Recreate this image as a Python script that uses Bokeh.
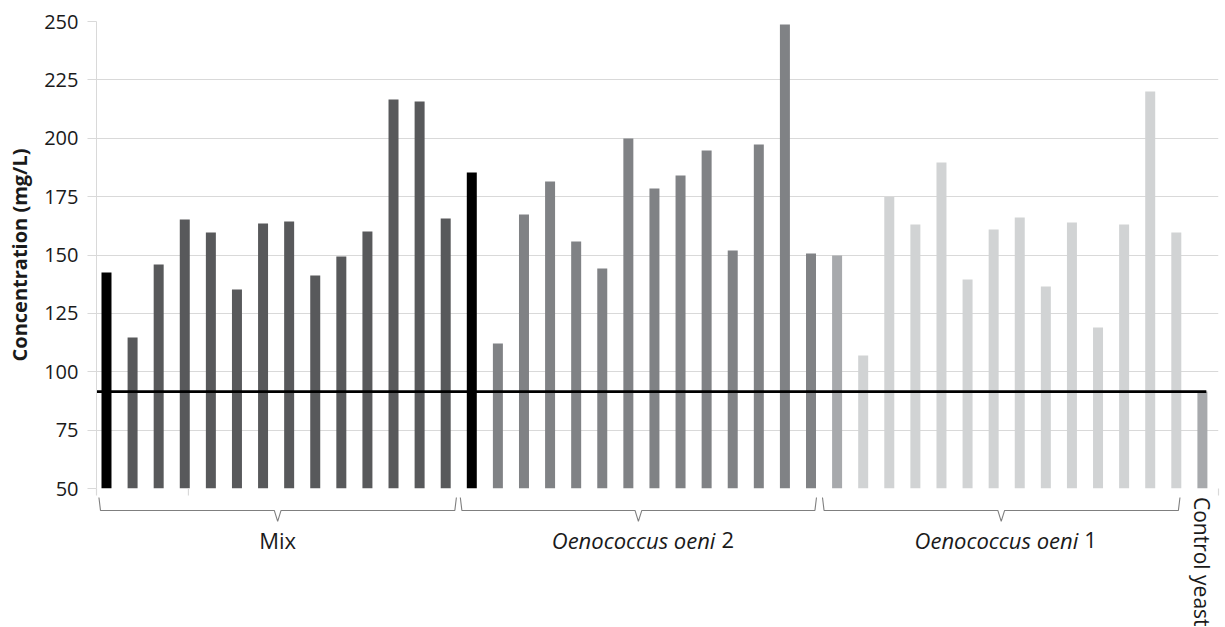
import math
from bokeh.plotting import figure
from bokeh.models import Range1d, FixedTicker, ColumnDataSource
from bokeh.core.properties import value
from bokeh.embed import file_html
from bokeh.resources import INLINE

# ---------------- data ----------------
group_names = ["Mix", "Oenococcus oeni", "Oenococcus oeni"]
group_suffix = ["", "2", "1"]
mix = [142.5, 114.7, 145.9, 165.2, 159.6, 135.2, 163.5, 164.3, 141.2, 149.4, 160.1, 216.6, 215.7, 165.6]
oeni2 = [185.3, 112.1, 167.3, 181.5, 155.8, 144.2, 199.9, 178.5, 184.0, 194.8, 151.9, 197.3, 248.7, 150.6]
oeni1 = [149.8, 107.0, 174.8, 163.1, 189.6, 139.5, 160.9, 166.1, 136.5, 163.9, 119.0, 163.1, 220.0, 159.6]
control_label = "Control yeast"
control = [91.5]
y_ticks = [50, 75, 100, 125, 150, 175, 200, 225, 250]

mix_colors = ["#000000"] + ["#58595b"] * 13
oeni2_colors = ["#000000"] + ["#808285"] * 13
oeni1_colors = ["#a7a9ac"] + ["#d1d3d4"] * 13
control_colors = ["#a7a9ac"]

FONT = "Open Sans"

values = mix + oeni2 + oeni1 + control
colors = mix_colors + oeni2_colors + oeni1_colors + control_colors
xs = list(range(len(values)))
src = ColumnDataSource(dict(x=xs, top=values, color=colors))
n = len(values)
x_lo, x_hi = -0.383, n - 0.383

p = figure(width=1225, height=627, output_backend="svg", toolbar_location=None,
           x_range=Range1d(x_lo, x_hi), y_range=Range1d(50, 250),
           min_border_left=96, min_border_right=7, min_border_top=21, min_border_bottom=139)
p.outline_line_color = None
p.background_fill_color = "white"
p.border_fill_color = "white"

# grid
p.xgrid.visible = False
p.ygrid.ticker = FixedTicker(ticks=y_ticks)
p.ygrid.grid_line_color = "#d9d9d9"
p.ygrid.grid_line_width = 1.2

# y axis
p.yaxis.ticker = FixedTicker(ticks=y_ticks)
p.yaxis.axis_line_color = "#d9d9d9"
p.yaxis.major_tick_line_color = "#d9d9d9"
p.yaxis.major_tick_out = 9
p.yaxis.major_tick_in = 0
p.yaxis.minor_tick_line_color = None
p.yaxis.major_label_standoff = 9
p.yaxis.major_label_text_font = FONT
p.yaxis.major_label_text_font_size = "20px"
p.yaxis.major_label_text_color = "#1a1a1a"
p.yaxis.axis_label = "Concentration (mg/L)"
p.yaxis.axis_label_text_font = FONT
p.yaxis.axis_label_text_font_style = "bold"
p.yaxis.axis_label_text_font_size = "20px"
p.yaxis.axis_label_text_color = "#1a1a1a"
p.yaxis.axis_label_standoff = 8

# x axis hidden; bottom gridline acts as axis line, tick marks drawn below
p.xaxis.visible = False
tick_x = [x_lo, 3.14, x_hi]
px_per_unit = 467 / 200.0
p.segment(x0=tick_x, y0=[50] * 3, x1=tick_x, y1=[50 - 7 / px_per_unit] * 3,
          line_color="#d9d9d9", line_width=1.2, level="overlay")

# bars
p.vbar(x="x", top="top", bottom=y_ticks[0], width=0.383, fill_color="color",
       line_color=None, source=src)

# reference line at control level
p.line(x=[x_lo, n - 1 + 0.15], y=[control[0], control[0]], line_color="black", line_width=2.6)

# brackets below groups
groups = [mix, oeni2, oeni1]
starts = [0, len(mix), len(mix) + len(oeni2)]
pad_l = [0.23, 0.38, 0.5]
pad_r = [0.35, 0.15, 0.08]
bx, by, cx = [], [], []
for g, s in enumerate(starts):
    a = s - pad_l[g]
    b = s + len(groups[g]) - 1 + pad_r[g]
    c = (a + b) / 2
    cx.append(c)
    bx.append([a - 0.06, a, c - 0.13, c, c + 0.13, b, b + 0.06])
    by.append([46.15, 40.6, 40.6, 35.9, 40.6, 40.6, 46.15])
p.multi_line(xs=bx, ys=by, line_color="#7f7f7f", line_width=1.1, level="overlay")

# group labels
label_y = 28.0
p.text(x=[cx[0]], y=[label_y], text=[group_names[0]], text_font=value(FONT),
       text_font_size="22px", text_align="center", text_baseline="middle",
       text_color="#1a1a1a", level="overlay")
p.text(x=cx[1:], y=[label_y] * 2, text=group_names[1:], text_font=value(FONT),
       text_font_style="italic", text_font_size="22px", text_align="right",
       text_baseline="middle", x_offset=77, text_color="#1a1a1a", level="overlay")
p.text(x=cx[1:], y=[label_y] * 2, text=group_suffix[1:], text_font=value(FONT),
       text_font_size="22px", text_align="left", text_baseline="middle",
       x_offset=83, text_color="#1a1a1a", level="overlay")

# control yeast label (rotated)
p.text(x=[n - 1], y=[46.4], text=[control_label], text_font=value(FONT),
       text_font_size="21px", text_align="left", text_baseline="middle",
       angle=-math.pi / 2, text_color="#1a1a1a", level="overlay")

open("out.html", "w").write(file_html(p, INLINE))
